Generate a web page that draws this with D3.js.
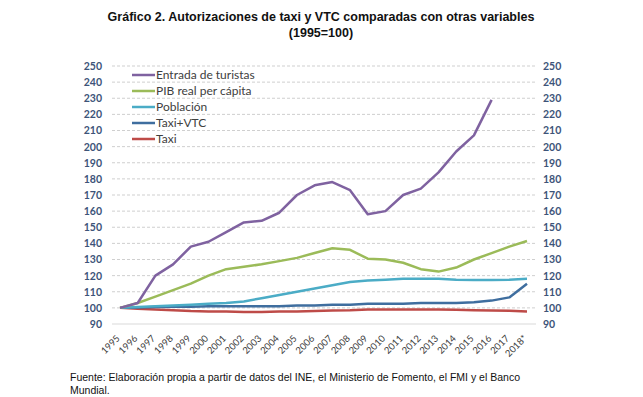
<!DOCTYPE html>
<html>
<head>
<meta charset="utf-8">
<script src="https://cdn.jsdelivr.net/npm/d3@7"></script>
<style>
  body { margin: 0; background: #fff; }
  svg { display: block; }
</style>
</head>
<body>
<script>
var years = ["1995","1996","1997","1998","1999","2000","2001","2002","2003","2004","2005","2006",
             "2007","2008","2009","2010","2011","2012","2013","2014","2015","2016","2017","2018*"];

var turistas = [100,103,120,127,138,141,147,153,154,159,170,176,178,173,158,160,170,174,184,197,207,229];
var pib      = [100,103,107,111,115,120,124,125.5,127,129,131,134,137,136,130.5,130,128,124,122.5,125,130,134,138,141.5];
var poblacion= [100,100.5,101,101.5,102,102.5,103,104,106,108,110,112,114,116,117,117.5,118,118,118,117.5,117.3,117.3,117.5,118];
var taxiVtc  = [100,100.3,100.5,100.7,100.7,101,101,101,101,101,101.5,101.5,102,102,102.5,102.5,102.5,103,103,103,103.5,104.5,106.5,115];
var taxi     = [100,99.5,99,98.5,98,97.8,97.8,97.5,97.5,97.7,97.7,98,98.3,98.5,99,99,99,99,99,98.8,98.5,98.3,98.2,97.8];

var yTicks = d3.range(90, 251, 10);

var series = [
    {name: "Entrada de turistas", values: turistas, color: "#7F62A0"},
    {name: "PIB real per cápita", values: pib, color: "#9BBB59"},
    {name: "Población", values: poblacion, color: "#4BACC6"},
    {name: "Taxi+VTC", values: taxiVtc, color: "#3F6E9F"},
    {name: "Taxi", values: taxi, color: "#BE4B48"}
];

var width = 643, height = 397;

var svg = d3.select("body").append("svg")
    .attr("width", width)
    .attr("height", height);

var xScale = d3.scalePoint()
    .domain(years)
    .range([120, 527]);

var yScale = d3.scaleLinear()
    .domain([90, 250])
    .range([324, 66]);

// title
svg.append("text")
    .attr("x", 321).attr("y", 21)
    .attr("text-anchor", "middle")
    .style("font-family", "Liberation Sans, Arial, sans-serif")
    .style("font-weight", "bold")
    .style("font-size", "12.5px")
    .attr("fill", "#111")
    .text("Gráfico 2. Autorizaciones de taxi y VTC comparadas con otras variables");
svg.append("text")
    .attr("x", 321).attr("y", 37)
    .attr("text-anchor", "middle")
    .style("font-family", "Liberation Sans, Arial, sans-serif")
    .style("font-weight", "bold")
    .style("font-size", "12.5px")
    .attr("fill", "#111")
    .text("(1995=100)");

// gridlines
svg.append("g")
    .selectAll("line")
    .data(yTicks)
    .enter()
    .append("line")
    .attr("x1", 112)
    .attr("x2", 536)
    .attr("y1", d => yScale(d))
    .attr("y2", d => yScale(d))
    .attr("stroke", d => d == 90 ? "#d9d9d9" : "#cfcfcf")
    .attr("stroke-width", 1)
    .attr("stroke-dasharray", d => d == 90 ? null : "3,2");

// left + right axes (labels only)
var yAxisL = d3.axisLeft(yScale).tickValues(yTicks).tickSize(0).tickPadding(0);
var yAxisR = d3.axisRight(yScale).tickValues(yTicks).tickSize(0).tickPadding(0);

var gl = svg.append("g").attr("transform", "translate(102,0)").call(yAxisL);
var gr = svg.append("g").attr("transform", "translate(543,0)").call(yAxisR);
[gl, gr].forEach(function (g)
{
    g.select(".domain").remove();
    g.selectAll("text")
        .style("font-family", "Lato, Carlito, sans-serif")
        .style("font-weight", "bold")
        .style("font-size", "10.5px")
        .attr("fill", "#3D5479");
});

// x axis
var xAxis = d3.axisBottom(xScale).tickSize(0).tickPadding(0);
var gx = svg.append("g").attr("transform", "translate(0,330)").call(xAxis);
gx.select(".domain").remove();
gx.selectAll("text")
    .attr("text-anchor", "end")
    .attr("dy", "0")
    .attr("transform", "translate(0,9) rotate(-45)")
    .style("font-family", "Lato, Carlito, sans-serif")
    .style("font-size", "9.5px")
    .attr("fill", "#404040");

// lines
var line = d3.line()
    .x((d, i) => xScale(years[i]))
    .y(d => yScale(d));

svg.append("g")
    .selectAll("path")
    .data(series.slice().reverse())
    .enter()
    .append("path")
    .attr("d", d => line(d.values))
    .attr("fill", "none")
    .attr("stroke", d => d.color)
    .attr("stroke-width", 2.5)
    .attr("stroke-linejoin", "round");

// legend
var legend = svg.append("g")
    .selectAll("g")
    .data(series)
    .enter()
    .append("g")
    .attr("transform", (d, i) => "translate(132," + (75 + i * 16) + ")");

legend.append("line")
    .attr("x1", 0).attr("x2", 23)
    .attr("y1", 0).attr("y2", 0)
    .attr("stroke", d => d.color)
    .attr("stroke-width", 2.5);

legend.append("text")
    .attr("x", 24)
    .attr("y", 4)
    .style("font-family", "Lato, Carlito, sans-serif")
    .style("font-size", "12px")
    .attr("fill", "#404040")
    .text(d => d.name);

// footer
var foot = svg.append("text")
    .style("font-family", "Liberation Sans, Arial, sans-serif")
    .style("font-size", "10.5px")
    .attr("fill", "#111");
foot.append("tspan").attr("x", 70).attr("y", 381)
    .text("Fuente: Elaboración propia a partir de datos del INE, el Ministerio de Fomento, el FMI y el Banco");
foot.append("tspan").attr("x", 70).attr("y", 394)
    .text("Mundial.");
</script>
</body>
</html>
